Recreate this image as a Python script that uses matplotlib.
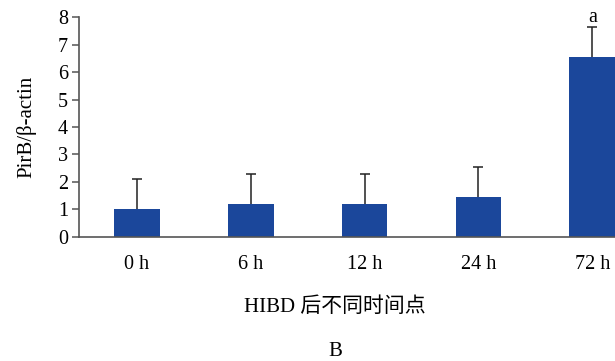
import matplotlib
matplotlib.use("Agg")
import matplotlib.pyplot as plt

# Datos
categories = ["0 h", "6 h", "12 h", "24 h", "72 h"]
means = [1.0, 1.18, 1.18, 1.44, 6.55]
errors = [1.1, 1.1, 1.1, 1.1, 1.08]
marks = ["", "", "", "", "a"]

BAR_COLOR = "#1b479b"
FONTS = ["Liberation Serif", "Noto Sans CJK SC"]

plt.rcParams["font.family"] = FONTS

fig = plt.figure(figsize=(6.15, 3.61), dpi=100)
ax = fig.add_axes([79 / 615, 1 - 236.7 / 361, 536 / 615, (236.7 - 17.3) / 361])

x = list(range(len(categories)))
ax.bar(x, means, width=0.4, color=BAR_COLOR, zorder=2)
_, caps, _ = ax.errorbar(x, means, yerr=[[0] * len(errors), errors], fmt="none",
                         ecolor="#222222", elinewidth=1.1, capsize=3.5,
                         capthick=1.1, zorder=3)
# solo el tope superior de la barra de error
caps[0].remove()

# letras de significancia
for xi, m, e, t in zip(x, means, errors, marks):
    if t:
        ax.text(xi, m + e + 0.03, t, ha="center", va="bottom", fontsize=14.5)

ax.set_xlim(-0.51, 4.2)
ax.set_ylim(0, 8)
ax.set_yticks(range(9))
ax.set_xticks(x)
ax.set_xticklabels(categories)

for s in ["top", "right"]:
    ax.spines[s].set_visible(False)
for s in ["left", "bottom"]:
    ax.spines[s].set_color("#555555")
    ax.spines[s].set_linewidth(1.2)

ax.tick_params(axis="x", length=0, pad=13.5, labelsize=14.5)
ax.tick_params(axis="y", length=5, width=1.1, color="#555555", pad=3, labelsize=14.5)

ax.set_ylabel("PirB/β-actin", fontsize=15)
ax.yaxis.set_label_coords(-0.079, 0.5)
fig.text(335 / 615, 1 - 307 / 361, "HIBD 后不同时间点", ha="center", va="center", fontsize=15)
fig.text(335 / 615, 1 - 352 / 361, "B", ha="center", va="center", fontsize=15)

fig.savefig("out.png", dpi=100)
